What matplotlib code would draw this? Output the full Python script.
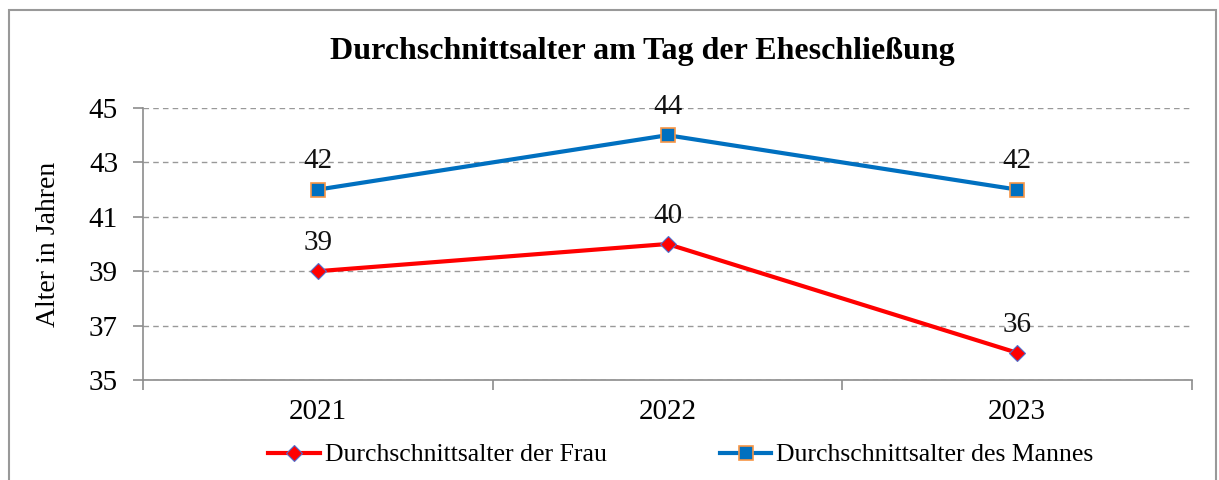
import matplotlib
matplotlib.use("Agg")
import matplotlib.pyplot as plt
from matplotlib.patches import Rectangle

plt.rcParams['font.family'] = ['Liberation Serif', 'DejaVu Serif']

years = ["2021", "2022", "2023"]
frau = [39, 40, 36]
mann = [42, 44, 42]
yticks = [35, 37, 39, 41, 43, 45]

fig = plt.figure(figsize=(12.19, 4.8), dpi=100)
ax = fig.add_axes([143/1219, 100/480, 1049/1219, 272/480])

x = [1, 2, 3]
ax.plot(x, frau, color="#FF0000", lw=3, marker="D", ms=8,
        mfc="#FF0000", mec="#4F6FCF", mew=0.8, label="Durchschnittsalter der Frau", zorder=3)
ax.plot(x, mann, color="#0070C0", lw=3, marker="s", ms=10,
        mfc="#0070C0", mec="#F79646", mew=1.2, label="Durchschnittsalter des Mannes", zorder=3)

for xi, v in zip(x, frau):
    ax.annotate(str(v), (xi, v), xytext=(0, 11), textcoords="offset points",
                ha="center", va="bottom", fontsize=21, color="#111111")
for xi, v in zip(x, mann):
    ax.annotate(str(v), (xi, v), xytext=(0, 11), textcoords="offset points",
                ha="center", va="bottom", fontsize=21, color="#111111")

ax.set_xlim(0.5, 3.5)
ax.set_ylim(35, 45)
ax.set_yticks(yticks)
ax.set_yticklabels([str(t) for t in yticks], fontsize=21)
ax.set_xticks(x)
ax.set_xticklabels(years, fontsize=21)
ax.set_xticks([0.5, 1.5, 2.5, 3.5], minor=True)
ax.tick_params(axis="x", which="major", length=0, pad=14)
ax.tick_params(axis="x", which="minor", length=7, width=1.2, color="#8c8c8c")
ax.tick_params(axis="y", length=7, width=1.2, color="#8c8c8c", pad=11)
ax.grid(axis="y", color="#999999", ls=(0, (4, 3)), lw=1)
for s in ["top", "right"]:
    ax.spines[s].set_visible(False)
for s in ["left", "bottom"]:
    ax.spines[s].set_color("#8c8c8c")
    ax.spines[s].set_linewidth(1.2)

ax.set_ylabel("Alter in Jahren", fontsize=20, labelpad=20)

fig.text(642/1219, 1 - 52/480, "Durchschnittsalter am Tag der Eheschließung",
         ha="center", va="center", fontsize=23, fontweight="bold")

fig.legend(loc="center", bbox_to_anchor=(681/1219, 1 - 455/480), ncol=2,
           frameon=False, fontsize=18.5, handlelength=2.0, columnspacing=4.4,
           handletextpad=0.2)

fig.patches.append(Rectangle((9/1219, -0.05), 1207/1219, 1 - 10/480 + 0.05,
                             transform=fig.transFigure, fill=False,
                             ec="#999999", lw=1.5))

fig.savefig("out.png", dpi=100)
